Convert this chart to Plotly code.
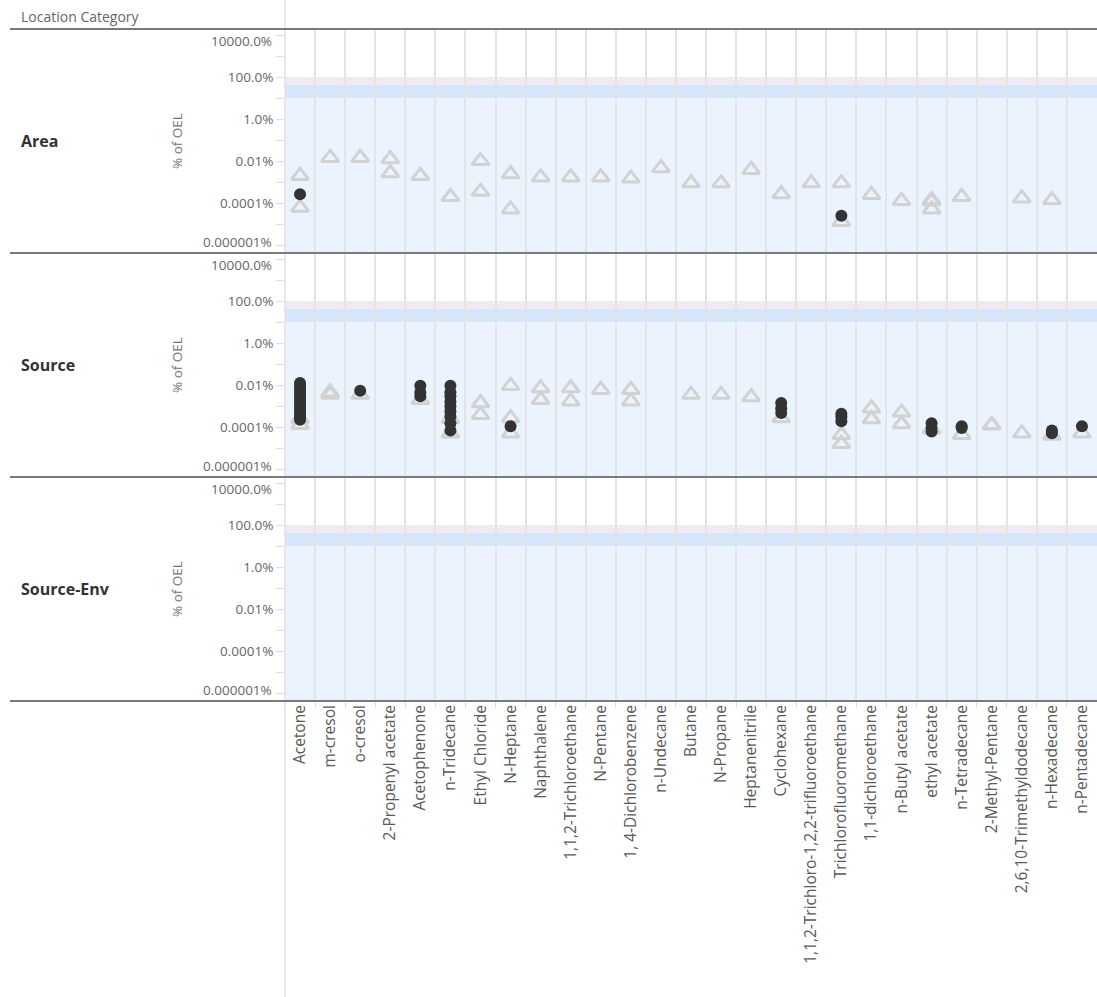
import plotly.graph_objects as go

# ---------------- data ----------------
chemicals = ["Acetone", "m-cresol", "o-cresol", "2-Propenyl acetate", "Acetophenone",
             "n-Tridecane", "Ethyl Chloride", "N-Heptane", "Naphthalene",
             "1,1,2-Trichloroethane", "N-Pentane", "1, 4-Dichlorobenzene", "n-Undecane",
             "Butane", "N-Propane", "Heptanenitrile", "Cyclohexane",
             "1,1,2-Trichloro-1,2,2-trifluoroethane", "Trichlorofluoromethane",
             "1,1-dichloroethane", "n-Butyl acetate", "ethyl acetate", "n-Tetradecane",
             "2-Methyl-Pentane", "2,6,10-Trimethyldodecane", "n-Hexadecane", "n-Pentadecane"]

rows = ["Area", "Source", "Source-Env"]

# % of OEL values (triangles = open gray markers, circles = dark markers)
area_triangles = {
    "Acetone": [0.0020, 0.000062], "m-cresol": [0.0145], "o-cresol": [0.0145],
    "2-Propenyl acetate": [0.0126, 0.0027], "Acetophenone": [0.0020],
    "n-Tridecane": [0.00020], "Ethyl Chloride": [0.0102, 0.00035],
    "N-Heptane": [0.0024, 0.000051], "Naphthalene": [0.0017],
    "1,1,2-Trichloroethane": [0.0017], "N-Pentane": [0.0017],
    "1, 4-Dichlorobenzene": [0.0015], "n-Undecane": [0.0047], "Butane": [0.00089],
    "N-Propane": [0.00089], "Heptanenitrile": [0.0039], "Cyclohexane": [0.00027],
    "1,1,2-Trichloro-1,2,2-trifluoroethane": [0.00089],
    "Trichlorofluoromethane": [0.00089, 0.000013], "1,1-dichloroethane": [0.00025],
    "n-Butyl acetate": [0.00013], "ethyl acetate": [0.00014, 0.00012, 0.000051],
    "n-Tetradecane": [0.00020], "2,6,10-Trimethyldodecane": [0.00017],
    "n-Hexadecane": [0.00014],
}
area_circles = {
    "Acetone": [0.00026], "Trichlorofluoromethane": [0.000025],
}
source_triangles = {
    "Acetone": [0.00013, 0.00025], "m-cresol": [0.0045, 0.0035], "o-cresol": [0.0035],
    "Acetophenone": [0.0020], "n-Tridecane": [0.000051, 0.00025],
    "Ethyl Chloride": [0.0014, 0.00039], "N-Heptane": [0.0093, 0.00027, 0.000051],
    "Naphthalene": [0.0072, 0.0020], "1,1,2-Trichloroethane": [0.0072, 0.0017],
    "N-Pentane": [0.0060], "1, 4-Dichlorobenzene": [0.0060, 0.0017],
    "Butane": [0.0035], "N-Propane": [0.0035], "Heptanenitrile": [0.0027],
    "Cyclohexane": [0.00027], "Trichlorofluoromethane": [0.000043, 0.000016],
    "1,1-dichloroethane": [0.00079, 0.00024], "n-Butyl acetate": [0.00050, 0.00014],
    "ethyl acetate": [0.000079], "n-Tetradecane": [0.000043],
    "2-Methyl-Pentane": [0.00013, 0.00012], "2,6,10-Trimethyldodecane": [0.000051],
    "n-Hexadecane": [0.000040], "n-Pentadecane": [0.000051],
}
source_circles = {
    "Acetone": [0.0126, 0.0089, 0.0063, 0.0045, 0.0032, 0.0022, 0.0016, 0.0011,
                0.00079, 0.00056, 0.00040, 0.00028, 0.00022],
    "o-cresol": [0.0054], "Acetophenone": [0.0093, 0.0045, 0.0029],
    "n-Tridecane": [0.0093, 0.0045, 0.0029, 0.0016, 0.00095, 0.00055, 0.00032,
                    0.00015, 0.000069],
    "N-Heptane": [0.00011], "Cyclohexane": [0.0014, 0.00079, 0.00047],
    "Trichlorofluoromethane": [0.00043, 0.00030, 0.00019],
    "ethyl acetate": [0.00015, 0.000089, 0.000062], "n-Tetradecane": [0.00011, 0.000089],
    "n-Hexadecane": [0.000069, 0.000051], "n-Pentadecane": [0.00011],
}
env_triangles = {}
env_circles = {}

panel_data = [(area_triangles, area_circles), (source_triangles, source_circles),
              (env_triangles, env_circles)]

y_tickvals = [1e4, 1e2, 1, 1e-2, 1e-4, 1e-6]
y_ticktext = ["10000.0%", "100.0%", "1.0%", "0.01%", "0.0001%", "0.000001%"]
y_minor = [1e3, 1e1, 1e-1, 1e-3, 1e-5]
bands = [(100, 43, "#f1e9f3"), (43, 10, "#d7e7fb"), (10, 1e-9, "#ebf3fe")]

# ---------------- layout helpers ----------------
W, H = 1097, 997
X0 = 285
panel_px = [(29, 253), (253, 477), (477, 701)]
FONT = "'Open Sans', Lato, sans-serif"

def flat(d):
    xs, ys = [], []
    for k, vals in d.items():
        for v in vals:
            xs.append(k)
            ys.append(v)
    return xs, ys

fig = go.Figure()
for i, (tri, cir) in enumerate(panel_data):
    xa = "x" if i == 0 else f"x{i+1}"
    ya = "y" if i == 0 else f"y{i+1}"
    tx, ty = flat(tri)
    cx, cy = flat(cir)
    fig.add_trace(go.Scatter(x=tx, y=ty, mode="markers", xaxis=xa, yaxis=ya,
                             marker=dict(symbol="triangle-up-open", size=15, color="#d2d2d2",
                                         line=dict(width=3, color="#d2d2d2")),
                             showlegend=False, hoverinfo="x+y"))
    fig.add_trace(go.Scatter(x=cx, y=cy, mode="markers", xaxis=xa, yaxis=ya,
                             marker=dict(symbol="circle", size=12, color="#333333"),
                             showlegend=False, hoverinfo="x+y"))

layout = dict(width=W, height=H, margin=dict(l=0, r=0, t=0, b=0),
              paper_bgcolor="white", plot_bgcolor="white",
              font=dict(family=FONT, size=13, color="#666666"),
              showlegend=False)

TICKF = dict(size=13.5, color="#666666", family=FONT)
shapes = []
annotations = []
for i, (top, bot) in enumerate(panel_px):
    sfx = "" if i == 0 else str(i + 1)
    layout["xaxis" + sfx] = dict(
        domain=[X0 / W, 1], anchor="y" + sfx, type="category",
        categoryorder="array", categoryarray=chemicals,
        range=[-0.5, len(chemicals) - 0.5], tickson="boundaries",
        showgrid=True, gridcolor="#e4e4e4", gridwidth=1.5,
        showline=False, zeroline=False,
        showticklabels=(i == 2), ticks="outside" if i == 2 else "",
        ticklen=6, tickcolor="#dddddd", tickwidth=1,
        tickangle=-90, tickfont=dict(size=15.5, color="#5a5a5a", family=FONT),
        automargin=False, fixedrange=True,
        matches=None if i == 2 else "x3",
    )
    inner_text = [t if j not in (0, len(y_ticktext) - 1) else "" for j, t in enumerate(y_ticktext)]
    layout["yaxis" + sfx] = dict(
        domain=[1 - bot / H, 1 - top / H], anchor="x" + sfx, type="log",
        range=[-6.38, 4.29], tickvals=y_tickvals, ticktext=inner_text,
        ticks="outside", ticklen=8, tickcolor="#dddddd", tickwidth=1,
        minor=dict(tickvals=y_minor, ticks="outside", ticklen=8, tickcolor="#dddddd",
                   showgrid=False),
        showgrid=False, zeroline=False, showline=False,
        tickfont=TICKF, automargin=False, fixedrange=True,
    )
    # reference bands
    for hi, lo, col in bands:
        shapes.append(dict(type="rect", xref="x" + sfx + " domain", yref="y" + sfx,
                           x0=0, x1=1, y0=lo, y1=hi, fillcolor=col, line=dict(width=0),
                           layer="below"))
    # extreme tick labels nudged inside the pane
    annotations.append(dict(text=y_ticktext[0], xref="paper", yref="y" + sfx,
                            x=(X0 - 11) / W, y=4, xanchor="right", yanchor="middle",
                            yshift=-6, showarrow=False, font=TICKF))
    annotations.append(dict(text=y_ticktext[-1], xref="paper", yref="y" + sfx,
                            x=(X0 - 11) / W, y=-6, xanchor="right", yanchor="middle",
                            yshift=3, showarrow=False, font=TICKF))
    # row header and axis title
    mid = 1 - (top + bot) / 2 / H
    annotations.append(dict(text="<b>" + rows[i] + "</b>", xref="paper", yref="paper",
                            x=19 / W, y=mid, xanchor="left", yanchor="middle",
                            showarrow=False, font=dict(size=16, color="#333333", family=FONT)))
    annotations.append(dict(text="% of OEL", xref="paper", yref="paper",
                            x=177 / W, y=mid, xanchor="center", yanchor="middle",
                            textangle=-90, showarrow=False,
                            font=dict(size=13.5, color="#777777", family=FONT)))

# header
annotations.append(dict(text="Location Category", xref="paper", yref="paper",
                        x=19 / W, y=1 - 17 / H, xanchor="left", yanchor="middle",
                        showarrow=False, font=dict(size=14, color="#666666", family=FONT)))

# left pane border line (full height)
shapes.append(dict(type="line", xref="paper", yref="paper", x0=X0 / W, x1=X0 / W,
                   y0=0, y1=1, line=dict(color="#e0e0e0", width=1.5), layer="above"))
# row separator lines
for ypx in [29, 253, 477, 701]:
    shapes.append(dict(type="line", xref="paper", yref="paper", x0=10 / W, x1=1,
                       y0=1 - ypx / H, y1=1 - ypx / H,
                       line=dict(color="#7a7a7a", width=2), layer="above"))

layout["shapes"] = shapes
layout["annotations"] = annotations
fig.update_layout(**layout)

fig.write_html("out.html", config={"displayModeBar": False},
               post_script="document.body.style.margin='0';document.body.style.overflow='hidden';")
